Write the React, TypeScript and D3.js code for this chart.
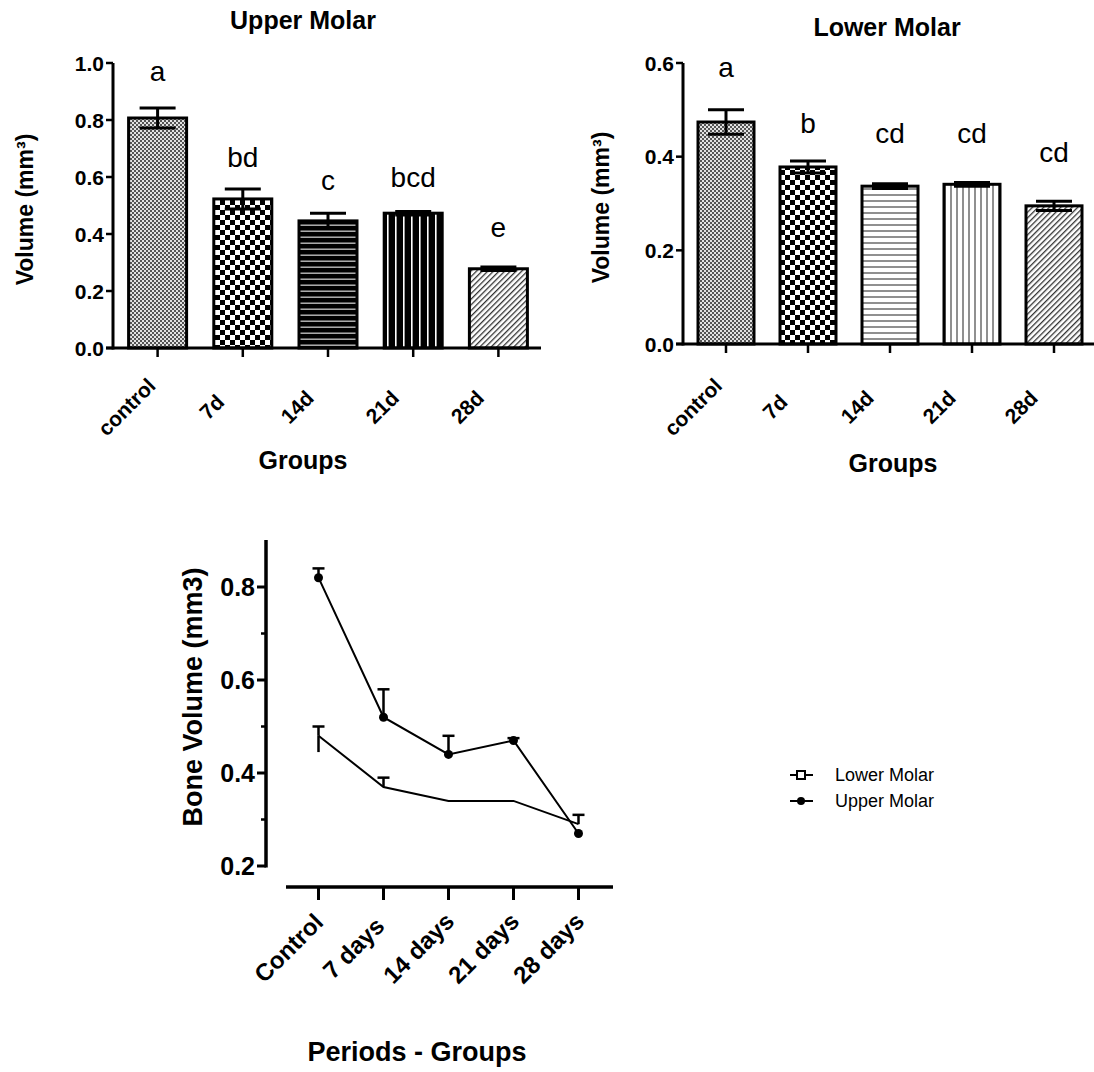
import React, { useRef, useEffect } from 'react';
import * as d3 from 'd3';

const groups = ['control', '7d', '14d', '21d', '28d'];
const upperMeans = [0.807, 0.523, 0.446, 0.473, 0.278];
const upperSem = [0.035, 0.035, 0.027, 0.006, 0.006];
const upperLetters = ['a', 'bd', 'c', 'bcd', 'e'];
const upperLetterAt = [0.97, 0.67, 0.59, 0.6, 0.425];
const lowerMeans = [0.474, 0.378, 0.337, 0.341, 0.295];
const lowerSem = [0.026, 0.013, 0.005, 0.004, 0.01];
const lowerLetters = ['a', 'b', 'cd', 'cd', 'cd'];
const lowerLetterAt = [0.59, 0.472, 0.45, 0.45, 0.41];

const periods = ['Control', '7 days', '14 days', '21 days', '28 days'];
const lineUpper = [0.82, 0.52, 0.44, 0.47, 0.27];
const lineUpperErr = [0.02, 0.06, 0.04, 0.005, 0.0];
const lineLower = [0.48, 0.37, 0.34, 0.34, 0.29];
const lineLowerErr = [0.02, 0.02, 0.0, 0.0, 0.02];

const FONT = "'Liberation Sans', Arial, sans-serif";

const App = () => {
  const svgRef = useRef(null);

  useEffect(() => {
    const svg = d3.select(svgRef.current);
    svg.selectAll('*').remove();
    svg.style('font-family', FONT);

    // patterns
    const defs = svg.append('defs');
    const fine = defs.append('pattern').attr('id', 'p-fine').attr('patternUnits', 'userSpaceOnUse').attr('width', 4).attr('height', 4);
    fine.append('rect').attr('width', 4).attr('height', 4).attr('fill', '#e2e2e2');
    fine.append('rect').attr('width', 2).attr('height', 2).attr('fill', '#555');
    fine.append('rect').attr('x', 2).attr('y', 2).attr('width', 2).attr('height', 2).attr('fill', '#555');

    const chk = defs.append('pattern').attr('id', 'p-check').attr('patternUnits', 'userSpaceOnUse').attr('width', 10).attr('height', 10);
    chk.append('rect').attr('width', 10).attr('height', 10).attr('fill', '#fff');
    chk.append('rect').attr('width', 5).attr('height', 5).attr('fill', '#000');
    chk.append('rect').attr('x', 5).attr('y', 5).attr('width', 5).attr('height', 5).attr('fill', '#000');

    const hDark = defs.append('pattern').attr('id', 'p-hdark').attr('patternUnits', 'userSpaceOnUse').attr('width', 6).attr('height', 6);
    hDark.append('rect').attr('width', 6).attr('height', 6).attr('fill', '#000');
    hDark.append('rect').attr('y', 2.5).attr('width', 6).attr('height', 1.4).attr('fill', '#bbb');

    const vDark = defs.append('pattern').attr('id', 'p-vdark').attr('patternUnits', 'userSpaceOnUse').attr('width', 8).attr('height', 8);
    vDark.append('rect').attr('width', 8).attr('height', 8).attr('fill', '#000');
    vDark.append('rect').attr('x', 3).attr('width', 1.6).attr('height', 8).attr('fill', '#fff');

    const hLight = defs.append('pattern').attr('id', 'p-hlight').attr('patternUnits', 'userSpaceOnUse').attr('width', 6).attr('height', 6);
    hLight.append('rect').attr('width', 6).attr('height', 6).attr('fill', '#fff');
    hLight.append('rect').attr('y', 2.5).attr('width', 6).attr('height', 1).attr('fill', '#222');

    const vLight = defs.append('pattern').attr('id', 'p-vlight').attr('patternUnits', 'userSpaceOnUse').attr('width', 6).attr('height', 6);
    vLight.append('rect').attr('width', 6).attr('height', 6).attr('fill', '#fff');
    vLight.append('rect').attr('x', 2.5).attr('width', 1).attr('height', 6).attr('fill', '#222');

    const diag = defs.append('pattern').attr('id', 'p-diag').attr('patternUnits', 'userSpaceOnUse').attr('width', 4).attr('height', 4).attr('patternTransform', 'rotate(45)');
    diag.append('rect').attr('width', 4).attr('height', 4).attr('fill', '#fff');
    diag.append('rect').attr('width', 1.3).attr('height', 4).attr('fill', '#333');

    const upperFills = ['url(#p-fine)', 'url(#p-check)', 'url(#p-hdark)', 'url(#p-vdark)', 'url(#p-diag)'];
    const lowerFills = ['url(#p-fine)', 'url(#p-check)', 'url(#p-hlight)', 'url(#p-vlight)', 'url(#p-diag)'];

    function barChart(opts) {
      const { x0, x1, axisEnd, yTop, yBottom, yMax, ticks, means, sem, letters, letterAt, fills, barW, title, titleX, titleY, ylabX, groupsX, groupsY, labShift } = opts;
      const g = svg.append('g');
      const y = d3.scaleLinear().domain([0, yMax]).range([yBottom, yTop]);
      const x = d3.scalePoint().domain(groups).range([x0, x1]).padding(0.5);

      g.selectAll('rect.bar').data(groups).join('rect')
        .attr('x', d => x(d) - barW / 2)
        .attr('y', (d, i) => y(means[i]))
        .attr('width', barW)
        .attr('height', (d, i) => yBottom - y(means[i]))
        .attr('fill', (d, i) => fills[i])
        .attr('stroke', '#000').attr('stroke-width', 3);

      // error bars
      groups.forEach((d, i) => {
        const cx = x(d);
        g.append('line').attr('x1', cx).attr('x2', cx).attr('y1', y(means[i] - sem[i])).attr('y2', y(means[i] + sem[i])).attr('stroke', '#000').attr('stroke-width', 3);
        [means[i] - sem[i], means[i] + sem[i]].forEach(v => {
          g.append('line').attr('x1', cx - 18).attr('x2', cx + 18).attr('y1', y(v)).attr('y2', y(v)).attr('stroke', '#000').attr('stroke-width', 3);
        });
      });

      // letters
      g.selectAll('text.let').data(groups).join('text')
        .attr('x', d => x(d)).attr('y', (d, i) => y(letterAt[i]))
        .attr('dy', '0.35em')
        .attr('text-anchor', 'middle').style('font-size', '28px').text((d, i) => letters[i]);

      // axes
      g.append('line').attr('x1', x0 - 2).attr('x2', x0 - 2).attr('y1', yTop).attr('y2', yBottom + 1.5).attr('stroke', '#000').attr('stroke-width', 3);
      g.append('line').attr('x1', x0 - 9).attr('x2', axisEnd).attr('y1', yBottom).attr('y2', yBottom).attr('stroke', '#000').attr('stroke-width', 3);
      ticks.forEach(t => {
        g.append('line').attr('x1', x0 - 9).attr('x2', x0 - 2).attr('y1', y(t)).attr('y2', y(t)).attr('stroke', '#000').attr('stroke-width', 2.5);
        g.append('text').attr('x', x0 - 11).attr('y', y(t)).attr('dy', '0.36em').attr('text-anchor', 'end')
          .style('font-size', '21px').style('font-weight', 'bold').text(t.toFixed(1));
      });
      groups.forEach(d => {
        g.append('line').attr('x1', x(d)).attr('x2', x(d)).attr('y1', yBottom).attr('y2', yBottom + 9).attr('stroke', '#000').attr('stroke-width', 2.5);
        g.append('text').attr('transform', `translate(${x(d) - labShift},407) rotate(-45)`)
          .attr('text-anchor', 'middle').attr('dy', '0.35em')
          .style('font-size', '21px').style('font-weight', 'bold').text(d);
      });

      g.append('text').attr('x', titleX).attr('y', titleY).attr('text-anchor', 'middle').attr('dy', '0.35em')
        .style('font-size', '25px').style('font-weight', 'bold').text(title);
      g.append('text').attr('transform', `translate(${ylabX},${(yTop + yBottom) / 2 + 4}) rotate(-90)`)
        .attr('text-anchor', 'middle').attr('dy', '0.35em')
        .style('font-size', '23px').style('font-weight', 'bold').text('Volume (mm³)');
      g.append('text').attr('x', groupsX).attr('y', groupsY).attr('text-anchor', 'middle').attr('dy', '0.35em')
        .style('font-size', '25px').style('font-weight', 'bold').text('Groups');
    }

    barChart({
      x0: 115, x1: 541, axisEnd: 541, yTop: 63, yBottom: 348, yMax: 1.0, ticks: [0, 0.2, 0.4, 0.6, 0.8, 1.0],
      means: upperMeans, sem: upperSem, letters: upperLetters, letterAt: upperLetterAt, fills: upperFills, barW: 58,
      title: 'Upper Molar', titleX: 303, titleY: 20, ylabX: 25, groupsX: 303, groupsY: 460, labShift: 31
    });
    barChart({
      x0: 685, x1: 1095, axisEnd: 1094, yTop: 63, yBottom: 344, yMax: 0.6, ticks: [0, 0.2, 0.4, 0.6],
      means: lowerMeans, sem: lowerSem, letters: lowerLetters, letterAt: lowerLetterAt, fills: lowerFills, barW: 56,
      title: 'Lower Molar', titleX: 887, titleY: 27, ylabX: 601, groupsX: 893, groupsY: 463, labShift: 33
    });

    // line chart
    const lg = svg.append('g');
    const yL = d3.scaleLinear().domain([0.2, 0.9]).range([866, 540.5]);
    const xL = d3.scalePoint().domain(periods).range([286, 611]).padding(0.5);
    const axX = 266;

    lg.append('line').attr('x1', axX).attr('x2', axX).attr('y1', 540).attr('y2', 867.5).attr('stroke', '#000').attr('stroke-width', 3.5);
    [0.2, 0.4, 0.6, 0.8].forEach(t => {
      lg.append('line').attr('x1', axX - 9).attr('x2', axX).attr('y1', yL(t)).attr('y2', yL(t)).attr('stroke', '#000').attr('stroke-width', 3);
      lg.append('text').attr('x', axX - 11).attr('y', yL(t)).attr('dy', '0.36em').attr('text-anchor', 'end')
        .style('font-size', '25px').style('font-weight', 'bold').text(t.toFixed(1));
    });
    [0.3, 0.5, 0.7].forEach(t => {
      lg.append('line').attr('x1', axX - 5).attr('x2', axX).attr('y1', yL(t)).attr('y2', yL(t)).attr('stroke', '#000').attr('stroke-width', 2.5);
    });
    lg.append('line').attr('x1', 286).attr('x2', 613).attr('y1', 887).attr('y2', 887).attr('stroke', '#000').attr('stroke-width', 3.5);
    periods.forEach(p => {
      lg.append('line').attr('x1', xL(p)).attr('x2', xL(p)).attr('y1', 887).attr('y2', 900).attr('stroke', '#000').attr('stroke-width', 3);
      lg.append('text').attr('transform', `translate(${xL(p) - 30},948) rotate(-45)`)
        .attr('text-anchor', 'middle').attr('dy', '0.35em')
        .style('font-size', '24px').style('font-weight', 'bold').text(p);
    });

    const line = d3.line().x((d, i) => xL(periods[i])).y(d => yL(d));
    [[lineLower, lineLowerErr], [lineUpper, lineUpperErr]].forEach(([vals, errs]) => {
      lg.append('path').attr('d', line(vals)).attr('fill', 'none').attr('stroke', '#000').attr('stroke-width', 2);
      vals.forEach((v, i) => {
        if (errs[i] <= 0) return;
        const cx = xL(periods[i]);
        lg.append('line').attr('x1', cx).attr('x2', cx).attr('y1', yL(v)).attr('y2', yL(v + errs[i])).attr('stroke', '#000').attr('stroke-width', 2.5);
        lg.append('line').attr('x1', cx - 6).attr('x2', cx + 6).attr('y1', yL(v + errs[i])).attr('y2', yL(v + errs[i])).attr('stroke', '#000').attr('stroke-width', 2.5);
      });
    });
    // lower control bar extends below too
    lg.append('line').attr('x1', xL(periods[0])).attr('x2', xL(periods[0])).attr('y1', yL(lineLower[0])).attr('y2', yL(lineLower[0] - 0.035)).attr('stroke', '#000').attr('stroke-width', 2.5);
    lg.selectAll('circle.up').data(lineUpper).join('circle')
      .attr('cx', (d, i) => xL(periods[i])).attr('cy', d => yL(d)).attr('r', 4.5).attr('fill', '#000');

    lg.append('text').attr('transform', `translate(193,697) rotate(-90)`).attr('text-anchor', 'middle').attr('dy', '0.35em')
      .style('font-size', '27px').style('font-weight', 'bold').text('Bone Volume (mm3)');
    lg.append('text').attr('x', 417).attr('y', 1052).attr('text-anchor', 'middle').attr('dy', '0.35em')
      .style('font-size', '27px').style('font-weight', 'bold').text('Periods - Groups');

    // legend
    const leg = svg.append('g');
    const legItems = ['Lower Molar', 'Upper Molar'];
    legItems.forEach((name, i) => {
      const ly = 775 + i * 26;
      leg.append('line').attr('x1', 790).attr('x2', 813).attr('y1', ly).attr('y2', ly).attr('stroke', '#000').attr('stroke-width', 2);
      if (i === 0) {
        leg.append('rect').attr('x', 797).attr('y', ly - 4).attr('width', 8).attr('height', 8).attr('fill', '#fff').attr('stroke', '#000').attr('stroke-width', 2);
      } else {
        leg.append('circle').attr('cx', 801).attr('cy', ly).attr('r', 4).attr('fill', '#000');
      }
      leg.append('text').attr('x', 835).attr('y', ly).attr('dy', '0.35em').style('font-size', '18px').text(name);
    });
  }, []);

  return (
    <svg ref={svgRef} width={1094} height={1072} style={{ position: 'absolute', left: 0, top: 0, background: '#fff' }} />
  );
};

export default App;
